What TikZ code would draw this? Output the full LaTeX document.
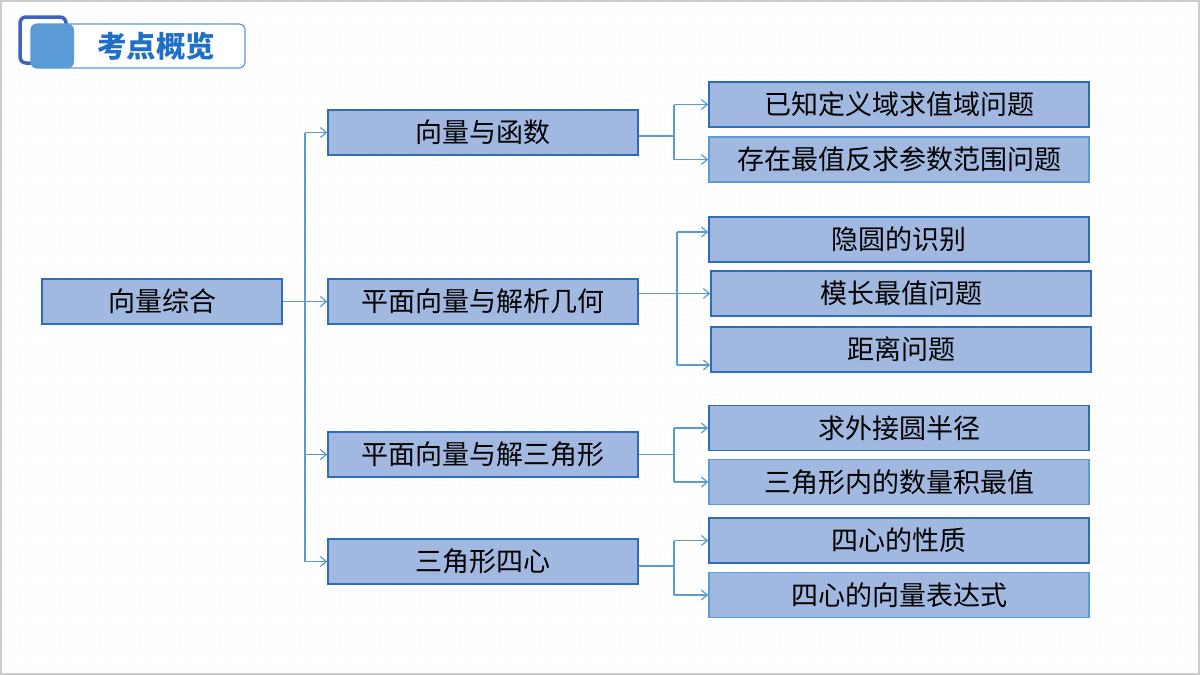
\documentclass[tikz,border=0pt]{standalone}
\usepackage{fontspec}
\setmainfont{Noto Sans CJK SC}
\usetikzlibrary{arrows.meta,patterns.meta}
\definecolor{boxfill}{HTML}{A1B9E1}
\definecolor{boxdraw}{HTML}{2E6EB8}
\definecolor{boxlight}{HTML}{5B9BD5}
\definecolor{connc}{HTML}{5B9BD5}
\definecolor{titleblue}{HTML}{1F6FC6}
\definecolor{badgec}{HTML}{3D63BE}
\begin{document}
\begin{tikzpicture}[x=1pt,y=-1pt,
  box/.style={draw=boxdraw, fill=boxfill, line width=1.5pt, inner sep=0pt,
    minimum height=45pt, font=\fontsize{27}{31}\selectfont, text=black},
  midbox/.style={box, minimum width=310pt},
  rbox/.style={box, minimum width=380pt},
  link/.style={draw=connc, line width=1.3pt},
  arr/.style={link, -{Straight Barb[length=6pt,width=10pt,line width=1.2pt]}}]
\useasboundingbox (0,0) rectangle (1200,675);
\fill[white] (0,0) rectangle (1200,675);
\fill[pattern={Dots[distance=5pt,radius=0.45pt]}, pattern color=gray!40] (0,0) rectangle (1200,675);
\draw[gray!40, line width=2pt] (1,1) rectangle (1199,674);
% title badge
\draw[badgec, line width=3.5pt, rounded corners=6pt] (20,17) rectangle (66,63);
\draw[boxlight, line width=1.2pt, fill=white, rounded corners=6pt] (31,24) rectangle (245,68);
\fill[boxlight, rounded corners=6pt] (31,24) rectangle (74,68);
\node[font=\fontsize{29.5}{33}\selectfont\bfseries, text=titleblue] (title) at (156,46) {考点概览};
% boxes
\node[box, minimum width=240pt] (root) at (162,301.5) {向量综合};
\node[midbox] (b1) at (483,132.5) {向量与函数};
\node[midbox] (b2) at (483,301.5) {平面向量与解析几何};
\node[midbox] (b3) at (483,454.5) {平面向量与解三角形};
\node[midbox] (b4) at (483,561.5) {三角形四心};
\node[rbox] (c11) at (899,104.5) {已知定义域求值域问题};
\node[rbox, draw=boxlight] (c12) at (899,159.5) {存在最值反求参数范围问题};
\node[rbox] (c21) at (899,239.5) {隐圆的识别};
\node[rbox] (c22) at (901,293.5) {模长最值问题};
\node[rbox] (c23) at (901,349.5) {距离问题};
\node[rbox] (c31) at (899,428) {求外接圆半径};
\node[rbox, draw=boxlight] (c32) at (899,482) {三角形内的数量积最值};
\node[rbox] (c41) at (899,540.5) {四心的性质};
\node[rbox, draw=boxlight] (c42) at (899,595) {四心的向量表达式};
% trunk
\coordinate (T) at (305,0);
\draw[link] (T|-b1) -- (T|-b4);
\draw[arr] (root.east) -- (b2.west);
\draw[arr] (T|-b1) -- (b1.west);
\draw[arr] (T|-b3) -- (b3.west);
\draw[arr] (T|-b4) -- (b4.west);
% group 1
\coordinate (J1) at (674,136);
\draw[link] (b1.east|-J1) -- (J1);
\draw[link] (J1|-c11) -- (J1|-c12);
\draw[arr] (J1|-c11) -- (c11.west);
\draw[arr] (J1|-c12) -- (c12.west);
% group 2
\coordinate (A21) at (677,232);
\coordinate (A23) at (677,365);
\draw[link] (A21) -- (A23);
\draw[arr] (A21) -- (c21.west|-A21);
\draw[arr] (b2.east|-c22) -- (c22.west);
\draw[arr] (A23) -- (c23.west|-A23);
% group 3
\coordinate (J3) at (674,454.5);
\draw[link] (b3.east) -- (J3);
\draw[link] (J3|-c31) -- (J3|-c32);
\draw[arr] (J3|-c31) -- (c31.west);
\draw[arr] (J3|-c32) -- (c32.west);
% group 4
\coordinate (J4) at (674,566);
\draw[link] (b4.east|-J4) -- (J4);
\draw[link] (J4|-c41) -- (J4|-c42);
\draw[arr] (J4|-c41) -- (c41.west);
\draw[arr] (J4|-c42) -- (c42.west);
\end{tikzpicture}
\end{document}
